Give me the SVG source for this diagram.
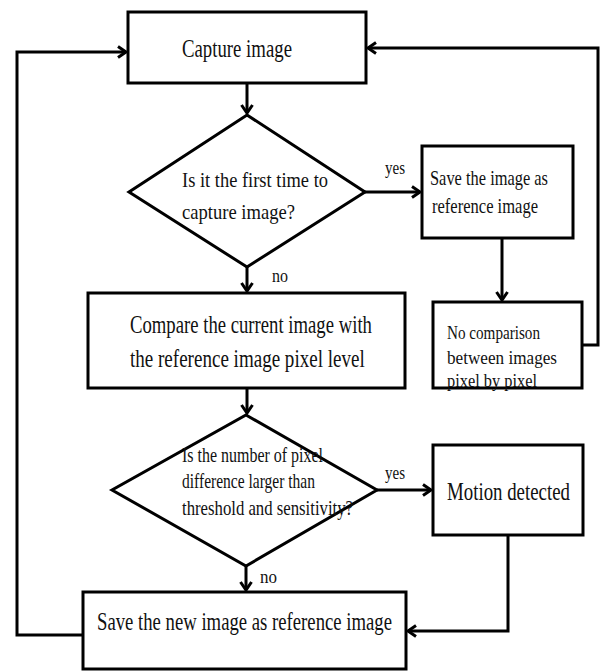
<svg xmlns="http://www.w3.org/2000/svg" width="600" height="671" viewBox="0 0 600 671">
<defs>
<marker id="arr" markerUnits="userSpaceOnUse" markerWidth="14" markerHeight="14" refX="10" refY="7" orient="auto">
<path d="M2,1.5 L10,7 L2,12.5" fill="none" stroke="#000" stroke-width="3"/>
</marker>
<style>
.box{fill:#fff;stroke:#000;stroke-width:3}
.ln{fill:none;stroke:#000;stroke-width:3}
.t{font-family:"Liberation Serif","Times New Roman",serif;fill:#111}
</style>
</defs>
<rect width="600" height="671" fill="#fff"/>
<g id="connectors">
<path class="ln" d="M247,83 V113" marker-end="url(#arr)"/>
<path class="ln" d="M365,192 H420" marker-end="url(#arr)"/>
<path class="ln" d="M502,238 V300" marker-end="url(#arr)"/>
<path class="ln" d="M582,345 H598 V48 H368" marker-end="url(#arr)"/>
<path class="ln" d="M247,267 V291" marker-end="url(#arr)"/>
<path class="ln" d="M247,388 V413" marker-end="url(#arr)"/>
<path class="ln" d="M377,490 H431" marker-end="url(#arr)"/>
<path class="ln" d="M246,566 V590" marker-end="url(#arr)"/>
<path class="ln" d="M508,535 V631 H408" marker-end="url(#arr)"/>
<path class="ln" d="M83,635 H17 V52 H126" marker-end="url(#arr)"/>
</g>
<g id="capture">
<rect class="box" x="128" y="12" width="238" height="71"/>
<text class="t" x="182" y="57" font-size="25" textLength="110" lengthAdjust="spacingAndGlyphs">Capture image</text>
</g>
<g id="first-time">
<polygon class="box" points="247,115 365,192 247,267 129,192"/>
<text class="t" x="182" y="187" font-size="22" textLength="146" lengthAdjust="spacingAndGlyphs">Is it the first time to</text>
<text class="t" x="182" y="219" font-size="22" textLength="113" lengthAdjust="spacingAndGlyphs">capture image?</text>
</g>
<g id="save-ref">
<rect class="box" x="422" y="146" width="151" height="92"/>
<text class="t" x="430" y="185" font-size="21" textLength="118" lengthAdjust="spacingAndGlyphs">Save the image as</text>
<text class="t" x="432" y="213" font-size="21" textLength="106" lengthAdjust="spacingAndGlyphs">reference image</text>
</g>
<g id="no-comparison">
<rect class="box" x="433" y="302" width="149" height="86"/>
<text class="t" x="447" y="339" font-size="19" textLength="93" lengthAdjust="spacingAndGlyphs">No comparison</text>
<text class="t" x="447" y="364" font-size="19" textLength="110" lengthAdjust="spacingAndGlyphs">between images</text>
<text class="t" x="447" y="387" font-size="19" textLength="90" lengthAdjust="spacingAndGlyphs">pixel by pixel</text>
</g>
<g id="compare">
<rect class="box" x="88" y="293" width="317" height="95"/>
<text class="t" transform="translate(130,333) scale(0.72,1)" x="0" y="0" font-size="26" textLength="336" lengthAdjust="spacingAndGlyphs">Compare the current image with</text>
<text class="t" transform="translate(130,367) scale(0.72,1)" x="0" y="0" font-size="26" textLength="326" lengthAdjust="spacingAndGlyphs">the reference image pixel level</text>
</g>
<g id="threshold">
<polygon class="box" points="246,415 377,490 246,566 112,490"/>
<text class="t" x="182" y="462" font-size="21" textLength="141" lengthAdjust="spacingAndGlyphs">Is the number of pixel</text>
<text class="t" x="182" y="488" font-size="21" textLength="133" lengthAdjust="spacingAndGlyphs">difference larger than</text>
<text class="t" x="182" y="515" font-size="21" textLength="171" lengthAdjust="spacingAndGlyphs">threshold and sensitivity?</text>
</g>
<g id="motion">
<rect class="box" x="433" y="445" width="150" height="90"/>
<text class="t" transform="translate(447,500) scale(0.754,1)" x="0" y="0" font-size="25">Motion detected</text>
</g>
<g id="save-new">
<rect class="box" x="83" y="592" width="323" height="77"/>
<text class="t" x="97" y="630" font-size="26" textLength="295" lengthAdjust="spacingAndGlyphs">Save the new image as reference image</text>
</g>
<g id="labels">
<text class="t" x="385" y="174" font-size="18" textLength="20" lengthAdjust="spacingAndGlyphs">yes</text>
<text class="t" x="272" y="282" font-size="18" textLength="16" lengthAdjust="spacingAndGlyphs">no</text>
<text class="t" x="385" y="479" font-size="18" textLength="20" lengthAdjust="spacingAndGlyphs">yes</text>
<text class="t" x="260" y="583" font-size="18" textLength="17" lengthAdjust="spacingAndGlyphs">no</text>
</g>
</svg>
